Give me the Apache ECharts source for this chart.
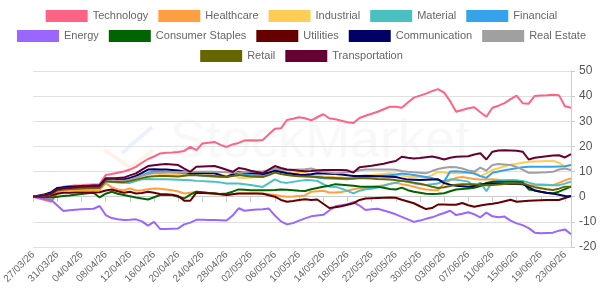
<!DOCTYPE html>
<html><head><meta charset="utf-8">
<script src="https://cdn.jsdelivr.net/npm/echarts@6/dist/echarts.min.js"></script>
<style>html,body{margin:0;padding:0;background:#fff}#c{width:603px;height:302px}</style>
</head><body><div id="c"></div>
<script>
// categories: daily dates 27/03/26 .. 24/06/26
const categories = [];
(function(){const d=new Date(2026,2,27);for(let k=0;k<90;k++){const dd=String(d.getDate()).padStart(2,'0');const mm=String(d.getMonth()+1).padStart(2,'0');categories.push(dd+'/'+mm+'/26');d.setDate(d.getDate()+1);}})();

const seriesNames = ['Technology','Healthcare','Industrial','Material','Financial','Energy','Consumer Staples','Utilities','Communication','Real Estate','Retail','Transportation'];
const seriesColors = ['#ff6384','#ff9f40','#ffcd56','#4bc0c0','#36a2eb','#9966ff','#006400','#660000','#000066','#a0a0a0','#666600','#660033'];
const legendRows = [seriesNames.slice(0,5), seriesNames.slice(5,10), seriesNames.slice(10)];

const technology = [0,-0.7,-1.3,-2,1.5,4,4.3,4.5,4.6,4.8, 4.9,5,8.6,9,9.5,10,10.8,11.9,13.5,15, 16,17.2,17.5,17.6,17.8,18.2,19.8,18.5,21.2,21.5, 21.8,20.6,19.8,20.8,21.4,22.4,22.5,22.4,22.6,24.8, 27,27.2,30.5,31,31.6,31.2,30.4,31.6,32.8,31.2, 30.8,30.2,29.6,29.3,31.3,32.2,33,33.8,34.8,35.8, 35.8,35.4,37.5,39.4,40.2,41,42,42.8,41.4,38, 33.8,34.5,35.2,35.6,33.6,31.8,35.4,36.2,37.2,38.8, 40.2,37.2,37,40.1,40.3,40.4,40.6,40.4,36,35.4];
const healthcare = [0,0.2,0.5,1,2,2.5,2.6,2.6,2.6,2.6, 2.7,2.6,5.3,3.8,2.9,2.6,3.3,2.5,2.6,3, 3.3,3.2,2.9,2.6,2.1,1.3,1.6,2,1.8,1.5, 1.3,1,0.7,1,1.3,1.3,1.3,1.3,1.3,1, 0.7,0.3,0,0.1,0.3,0.5,2,2.2,2.4,1.7, 1.7,1.9,2.4,3,3.4,3.6,3.9,4.2,4.6,5.1, 5.5,5,4.6,4,3.4,2.9,2.7,2.6,5.3,6.5, 7.5,7.8,7.4,7,6.8,6.8,6.9,6.7,6.3,6, 5.6,5.3,4.7,4.6,4.6,4.6,4.6,5.5,6.5,7.3];
const industrial = [0,0.3,0.7,1.3,2.8,3.2,3.4,3.5,3.6,3.7, 3.8,3.8,6.9,6.6,6.4,6.4,7.3,8.3,8.8,9.2, 9.3,9,8.8,8.6,8.8,9.1,9.3,9.3,9.2,9.3, 9.3,8.8,8.2,9.2,7.5,7.4,7.6,7.8,8.4,9.8, 11.2,10.4,9.9,9.6,9.4,9.6,8.7,8.2,8,7.9, 7.7,7.6,7.4,7.3,7.7,8.1,8.5,8.8,9,9.3, 9.2,8.4,7.9,7.8,7.7,7.7,8.6,9.9,9.6,9.3, 9.3,9.4,9.5,9.8,8.2,9.3,10.6,11.3,12.1,12.7, 13.1,13.5,13.9,14,14.1,14.2,14.3,13.5,12,12.6];
const material = [0,0.3,0.6,1.2,2.6,3,3.2,3.3,3.4,3.5, 3.6,3.6,6,5.9,5.7,5.6,5.5,6.2,6.9,7, 6.9,6.9,6.9,6.8,6.7,6.6,6.5,6.3,6.2,6.1, 6,5.7,5.3,5.3,5.3,5,4.7,4.3,3.9,5.4, 6.9,5.8,5.5,5.9,6.3,6.6,6.5,6.3,5,4, 4,3.2,2.3,1.3,2.4,3,3.2,3.7,4.3,5.1, 5.6,6.4,5.8,5.3,5,4.7,5,5.3,6.2,6.9, 6.7,6.4,6,4,5.6,2.2,6,6.4,6.5,6.6, 6.5,6.3,5.6,5,4.9,4.8,4.6,4.6,5.2,6];
const financial = [0,0.4,0.8,1.5,3.2,3.6,3.8,3.9,4,4.1, 4.2,4.3,6.6,6.7,6.6,6.5,7,7.6,8.5,9.5, 9.9,10,9.9,9.7,9.5,9.3,9,8.6,8.3,8.1, 7.9,7.8,7.9,8.6,9.3,9,8.6,8.3,8.2,9.4, 10.6,10,9.4,9,8.7,8.5,8.1,7.6,7.3,7.2, 7.1,7,6.9,7.2,7.5,7.7,7.9,8.1,8.3,8.5, 8.7,9.2,8.9,8.6,8.2,7.8,7.4,6.8,6,10, 10.1,9.9,9.6,9.2,8.2,7.5,9.5,10,10.5,10.9, 11.3,11.7,11.9,11.9,11.9,11.9,11.9,12,12.1,12.6];
const energy = [0,-0.4,-0.9,-1.3,-3.5,-5.7,-5.4,-5.2,-5,-4.9, -4.8,-3.7,-7.3,-8.5,-9,-9.3,-9.2,-9,-9.8,-11.5, -10,-12.8,-12.8,-12.7,-12.6,-11,-10.3,-9.2,-9.2,-9.3, -9.3,-9.4,-9.5,-7.5,-4.6,-5.6,-5.3,-5.1,-5,-4.7, -7.5,-9.8,-11,-10.5,-9.5,-8.6,-7.8,-7.5,-7.2,-5.5, -3.8,-3.4,-3,-2.2,-3.5,-5.3,-5,-4.8,-5.5,-6.2, -7,-8,-9,-10,-9.5,-8.8,-8.2,-7.3,-6.5,-5.6, -7.3,-6.8,-6.2,-7,-8.2,-6.3,-7.8,-8.2,-7.9,-9.5, -10.6,-11.3,-12.5,-14.3,-14.5,-14.4,-14.3,-13.5,-13,-14.9];
const consumerStaples = [0,0,-0.2,-0.3,0,0.3,0.5,0.8,1.1,1.4, 1.6,-0.3,1.2,2,1.2,0.7,0.2,-0.3,-0.7,-1.1, -0.2,0.7,0.7,0.7,0,-0.7,0.8,2,1.8,1.5, 1.3,1.1,1.3,2,2.9,2.8,2.6,2.6,2.6,2.6, 2.7,2.9,2.8,2.6,2.4,2.3,3,3.5,4,4.4, 5,4.8,4.6,4.4,4.1,4,4,4,3.6,3.1, 2.9,3.6,2.6,2,1.6,1.2,1.1,1.2,1.4,2.2, 2.9,3.1,3.3,3.6,4.2,5.5,6,6,6,6, 6,5.8,2.9,2.5,2,1.5,1.3,2,3,4];
const utilities = [0,0.1,0.3,0.5,1.2,1.6,1.6,1.7,1.7,1.7, 1.7,1.8,2.5,2.9,2.2,1.6,2,1.3,1.5,2, 1.6,1.1,1,0.8,0.3,-1.6,-1.6,1.6,1.5,1.4, 1.3,1,0.7,1,1.3,1.3,1.3,1.3,1.2,0.6, 0,-1.3,-2,-1.7,-1.3,-1,-1.3,-1.1,-2.8,-4.5, -4.2,-3.8,-3.2,-2.6,-1.3,-0.7,-0.6,-0.5,-0.4,-0.3, -0.4,-1.2,-1.9,-2.6,-3.8,-4.9,-4.5,-3.1,-3.1,-3.2, -3.2,-2.5,-3.4,-4,-3.5,-3.1,-2.8,-2.4,-1.8,-1.2, -2,-1.8,-1.6,-1.5,-1.4,-1.3,-1.3,-1.3,-0.5,0.3];
const communication = [0,0.5,1,1.8,3.5,3.8,4,4.1,4.2,4.3, 4.5,4.6,7.3,7.2,7,6.9,7.5,8.3,9.5,10.8, 10.9,10.8,10.8,10.6,10.4,10,9.3,9.5,9.4,9.3, 9.3,8.6,7.9,8.9,9.9,9.6,9.4,9.2,9,9.6, 10.3,9.8,9.3,9,8.7,8.6,8.9,9.3,9.2,9.1, 9,8.8,8.5,8.2,8.2,8.3,8.2,8.1,8,7.9, 7.8,7.3,6.8,6.7,6.6,6.7,6.8,6.9,5.4,4.8, 4.4,4.2,4,4.3,4.9,5.2,5.3,5.3,5.2,5.1, 5.1,5,3.8,2.5,2,1.6,1.3,0.8,0.3,0.2];
const realEstate = [0,0.3,0.6,1.2,2.8,3.2,3.4,3.5,3.6,3.7, 3.8,3.8,6.5,6.4,6.3,6.3,6.8,7.6,8.3,9, 9.4,9.5,9.6,9.6,9.7,9.8,9.8,9.9,9.9,9.9, 9.9,9.8,9.7,9.5,9.6,9.8,9.9,10,10.1,10.4, 11.2,10.8,10.6,10.7,10.8,10.9,11.2,10.5,9.9,9.6, 9.3,9.5,9.7,10,10.5,10.8,10.8,10.8,10.8,10.8, 10.7,10.2,9.9,9.7,9.5,9.3,10.2,11,11.5,11.8, 11.7,11.2,10.4,10,11.6,10.4,12.6,13,12.8,12.6, 11.8,10.8,9.5,9.5,9.6,9.7,9.9,10.8,11.2,10.6];
const retail = [0,0.2,0.5,1,2.5,2.9,3.1,3.2,3.3,3.4, 3.5,3.5,6.2,6,5.9,5.8,6.2,6.8,7.4,7.9, 8.1,8.2,8.2,8.1,8,8.3,8.6,8.5,8.4,8.3, 8.2,8,7.8,8.2,8.6,8.3,8,7.9,7.8,8.6, 9.6,9,8.6,8.3,8.1,8,7.9,7.8,7.6,7.5, 7.4,7.3,7.2,7.2,7.3,7.3,7.2,7,6.9,6.8, 6.6,6.3,6,5.6,5.2,4.6,4,3.5,3.8,4.3, 4.8,5,5,5,4.7,4.6,4.7,4.9,5.1,5.3, 5.3,5.3,4.5,3.8,3.4,3,2.7,3.2,4,4];
const transportation = [0,0.3,0.7,1.3,3,3.4,3.6,3.8,4,4.1, 4.2,4.3,7,7.2,7.4,7.6,8.5,9.3,10.8,12.2, 12.5,12.8,13,12.8,12.6,11.2,9.9,11.9,12,12.1, 12.2,11.5,10.7,9.9,11.4,11,10.3,9.8,9.3,10.8, 12.2,11.4,10.8,10.6,10.3,10.1,10.2,10.4,10.6,10.6, 10.6,10.6,10.5,9.6,11.7,12,12.3,12.7,13.1,13.7, 14.2,15.9,15.5,15.2,15.4,15.7,16,15.5,14.8,15.5, 15.9,16,16.1,16.8,17.3,14.8,17.9,18.4,18.5,18.4, 18.3,17.9,14.8,15.5,15.8,16.1,16.4,16.5,15.6,16.9];

const seriesData = [technology,healthcare,industrial,material,financial,energy,consumerStaples,utilities,communication,realEstate,retail,transportation];
const yTicks = {min:-20,max:50,interval:10};

const chart = echarts.init(document.getElementById('c'), null, {renderer:'canvas'});
const FONT = '"Liberation Sans", Arial, sans-serif';
chart.setOption({
  animation:false,
  backgroundColor:'#fff',
  color: seriesColors,
  textStyle:{fontFamily:FONT},
  legend: legendRows.map((row,r)=>({
    data: row, top:10 + r*20, left:'center', padding:0,
    itemWidth:42, itemHeight:12, itemGap:10,
    icon:'rect',
    textStyle:{color:'#666', fontSize:11, fontFamily:FONT}
  })),
  grid:{left:30, right:32, top:71, bottom:55, containLabel:false},
  graphic:[
    {type:'text', left:170, top:115, silent:true, z:-1,
     style:{text:'StockMarket', fontSize:54, fontFamily:FONT, fill:'rgba(200,200,200,0.13)'}},
    {type:'polyline', silent:true, z:-1, shape:{points:[[104,150],[131,168],[153,150]]},
     style:{stroke:'rgba(255,160,90,0.14)', lineWidth:4, fill:null}},
    {type:'polyline', silent:true, z:-1, shape:{points:[[122,153],[152,127]]},
     style:{stroke:'rgba(120,160,230,0.14)', lineWidth:4, fill:null}}
  ],
  xAxis:{
    type:'category', data:categories, boundaryGap:false,
    axisLine:{lineStyle:{color:'#ccc'}},
    axisTick:{interval:3, length:5, lineStyle:{color:'#ccc'}},
    axisLabel:{interval:3, rotate:45, color:'#666', fontSize:10, fontFamily:FONT, margin:6},
    splitLine:{show:false}
  },
  yAxis:{
    type:'value', position:'right', min:yTicks.min, max:yTicks.max, interval:yTicks.interval,
    axisLine:{show:true, lineStyle:{color:'#ccc'}},
    axisTick:{show:true, length:4, lineStyle:{color:'#ccc'}},
    axisLabel:{color:'#555', fontSize:12, fontFamily:FONT, margin:8},
    splitLine:{lineStyle:{color:'#e0e0e0'}}
  },
  series: seriesNames.map((n,k)=>({
    name:n, type:'line', data:seriesData[k], showSymbol:false, symbol:'none',
    lineStyle:{width:2, color:seriesColors[k]}, itemStyle:{color:seriesColors[k]}
  }))
});
</script></body></html>
